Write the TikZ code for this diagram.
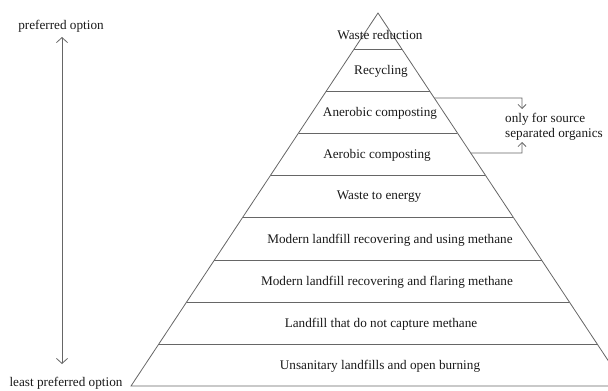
\documentclass[tikz,border=0pt]{standalone}
\usepackage{fontspec}
\setmainfont{Liberation Serif}
\usetikzlibrary{arrows.meta,calc}
\tikzset{
  ln/.style={draw=black!60, line width=0.8pt},
  lbl/.style={font=\fontsize{13.2}{14.5}\selectfont, inner sep=0pt, text=black!90},
  barb/.style={-{Straight Barb[length=4pt,width=8pt]}}
}
\begin{document}
\begin{tikzpicture}[x=1pt,y=-1pt]
\useasboundingbox (0,0) rectangle (608,391);
\clip (0,0) rectangle (608,391);
\coordinate (apex) at (378,13);
\coordinate (bl) at (131,386);
\coordinate (br) at (625,386);
\draw[ln] (bl) -- (apex) -- (br) -- cycle;
% tier lines
\foreach \yy/\nm in {49/a,91/b,133/c,175/d,217/e,260/f,302/g,344/h}{
  \pgfmathsetmacro{\t}{(\yy-13)/373}
  \coordinate (L\nm) at ($(apex)!\t!(bl)$);
  \coordinate (R\nm) at ($(apex)!\t!(br)$);
  \draw[ln] (L\nm) -- (R\nm);
}
% labels
\node[lbl] (t1) at (380,35) {Waste reduction};
\node[lbl] (t2) at (381,71) {Recycling};
\node[lbl] (t3) at (380,113) {Anerobic composting};
\node[lbl] (t4) at (377,155) {Aerobic composting};
\node[lbl] (t5) at (379,197) {Waste to energy};
\node[lbl] (t6) at (390,240) {Modern landfill recovering and using methane};
\node[lbl] (t7) at (387,282) {Modern landfill recovering and flaring methane};
\node[lbl] (t8) at (381,324) {Landfill that do not capture methane};
\node[lbl] (t9) at (380,366) {Unsanitary landfills and open burning};
% bracket
\pgfmathsetmacro{\ta}{(98-13)/373}
\pgfmathsetmacro{\tb}{(153-13)/373}
\coordinate (e1) at ($(apex)!\ta!(br)$);
\coordinate (e2) at ($(apex)!\tb!(br)$);
\coordinate (k1) at (522,98);
\coordinate (k2) at (522,153);
\coordinate (a1) at (522,109);
\coordinate (a2) at (522,142);
\draw[ln, barb] (e1) -- (k1) -- (a1);
\draw[ln, barb] (e2) -- (k2) -- (a2);
\node[lbl, anchor=west, align=left] (note) at (505,127) {only for source\\separated organics};
% preference arrow
\node[lbl] (pref) at (61,26) {preferred option};
\node[lbl] (lpref) at (66,383) {least preferred option};
\coordinate (top) at (62,37);
\coordinate (bot) at (62,364);
\draw[ln, {Straight Barb[length=5pt,width=11pt]}-{Straight Barb[length=5pt,width=11pt]}] (top) -- (bot);
\end{tikzpicture}
\end{document}
